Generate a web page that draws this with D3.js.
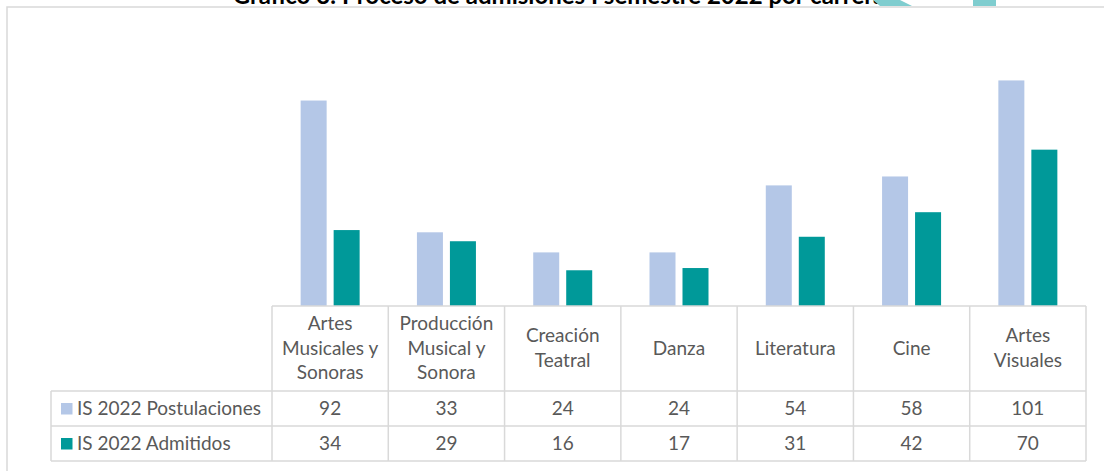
<!DOCTYPE html>
<html>
<head>
<meta charset="utf-8">
<script src="https://cdn.jsdelivr.net/npm/d3@7"></script>
<style>
  html, body { margin: 0; padding: 0; background: #fff; overflow: hidden; }
  text { font-family: Lato, "Open Sans", sans-serif; }
</style>
</head>
<body>
<div id="chart"></div>
<script>
// carreras y valores
const categories = [
  ["Artes", "Musicales y", "Sonoras"],
  ["Producción", "Musical y", "Sonora"],
  ["Creación", "Teatral"],
  ["Danza"],
  ["Literatura"],
  ["Cine"],
  ["Artes", "Visuales"]
];
const seriesNames = ["IS 2022 Postulaciones", "IS 2022 Admitidos"];
const postulaciones = [92, 33, 24, 24, 54, 58, 101];
const admitidos = [34, 29, 16, 17, 31, 42, 70];
const title = "Gráfico 3: Proceso de admisiones I semestre 2022 por carrera";

const width = 1104, height = 471;
const colors = ["#b4c7e7", "#009999"];
const gridColor = "#d9d9d9";
const textColor = "#595959";

const tableLeft = 51, colLeft = 272, colRight = 1086;
const baseY = 306, plotTop = 38;
const headerBottom = 391, rowH = 35;
const fs = 19;

const svg = d3.select("#chart").append("svg")
  .attr("width", width)
  .attr("height", height);

// marco exterior
svg.append("path")
  .attr("d", `M7,${height}V7H${width}`)
  .attr("fill", "none")
  .attr("stroke", gridColor)
  .attr("stroke-width", 1.5);

// título (recortado arriba, como en el original)
svg.append("text")
  .attr("x", 559)
  .attr("y", 3.5)
  .attr("text-anchor", "middle")
  .attr("font-size", 24)
  .attr("font-weight", "bold")
  .attr("fill", "#000")
  .text(title);

// adornos turquesa del borde superior
svg.append("polygon")
  .attr("points", "873,0 900,0 912,6 880,6")
  .attr("fill", "#7fcdcf");
svg.append("rect")
  .attr("x", 973).attr("y", 0)
  .attr("width", 23).attr("height", 6)
  .attr("fill", "#7fcdcf");

const idx = d3.range(categories.length);
const x0 = d3.scaleBand().domain(idx).range([colLeft, colRight]);
const groupW = 59;
const x1 = d3.scaleBand().domain([0, 1])
  .range([(x0.bandwidth() - groupW) / 2, (x0.bandwidth() + groupW) / 2])
  .paddingInner(0.212);
const y = d3.scaleLinear().domain([0, 120]).range([baseY, plotTop]);

const values = [postulaciones, admitidos];

const groups = svg.append("g").selectAll("g")
  .data(idx)
  .join("g")
  .attr("transform", i => `translate(${x0(i)},0)`);

groups.selectAll("rect")
  .data(i => values.map((v, s) => ({ s, v: v[i] })))
  .join("rect")
  .attr("x", d => x1(d.s))
  .attr("width", x1.bandwidth())
  .attr("y", d => y(d.v))
  .attr("height", d => y(0) - y(d.v))
  .attr("fill", d => colors[d.s]);

// tabla de datos
const table = svg.append("g")
  .attr("fill", "none")
  .attr("stroke", gridColor)
  .attr("stroke-width", 1.5);

const rowYs = [headerBottom, headerBottom + rowH, headerBottom + 2 * rowH];
// líneas horizontales
table.append("line")
  .attr("x1", colLeft).attr("x2", colRight)
  .attr("y1", baseY).attr("y2", baseY);
rowYs.forEach(yy => {
  table.append("line")
    .attr("x1", tableLeft).attr("x2", colRight)
    .attr("y1", yy).attr("y2", yy);
});
// líneas verticales
table.append("line")
  .attr("x1", tableLeft).attr("x2", tableLeft)
  .attr("y1", headerBottom).attr("y2", rowYs[2]);
idx.concat([categories.length]).forEach(i => {
  const xx = i < categories.length ? x0(i) : colRight;
  table.append("line")
    .attr("x1", xx).attr("x2", xx)
    .attr("y1", baseY).attr("y2", rowYs[2]);
});

// rótulos de categoría
const lineH = 24.5;
const labelG = svg.append("g")
  .attr("font-size", fs)
  .attr("fill", textColor)
  .attr("text-anchor", "middle");
categories.forEach((lines, i) => {
  const cx = x0(i) + x0.bandwidth() / 2;
  const cy = (baseY + headerBottom) / 2 - 0.5;
  const t = labelG.append("text")
    .attr("x", cx)
    .attr("y", cy - (lines.length - 1) * lineH / 2);
  lines.forEach((l, k) => {
    t.append("tspan")
      .attr("x", cx)
      .attr("dy", k === 0 ? "0.35em" : lineH)
      .text(l);
  });
});

// filas de valores con leyenda
values.forEach((vals, s) => {
  const cy = headerBottom + rowH * s + rowH / 2;
  svg.append("rect")
    .attr("x", 61).attr("y", cy - 5.5)
    .attr("width", 11.5).attr("height", 11.5)
    .attr("fill", colors[s]);
  svg.append("text")
    .attr("x", 77).attr("y", cy)
    .attr("dy", "0.35em")
    .attr("font-size", fs)
    .attr("fill", textColor)
    .text(seriesNames[s]);
  vals.forEach((v, i) => {
    svg.append("text")
      .attr("x", x0(i) + x0.bandwidth() / 2)
      .attr("y", cy)
      .attr("dy", "0.35em")
      .attr("text-anchor", "middle")
      .attr("font-size", fs)
      .attr("fill", textColor)
      .text(v);
  });
});
</script>
</body>
</html>
